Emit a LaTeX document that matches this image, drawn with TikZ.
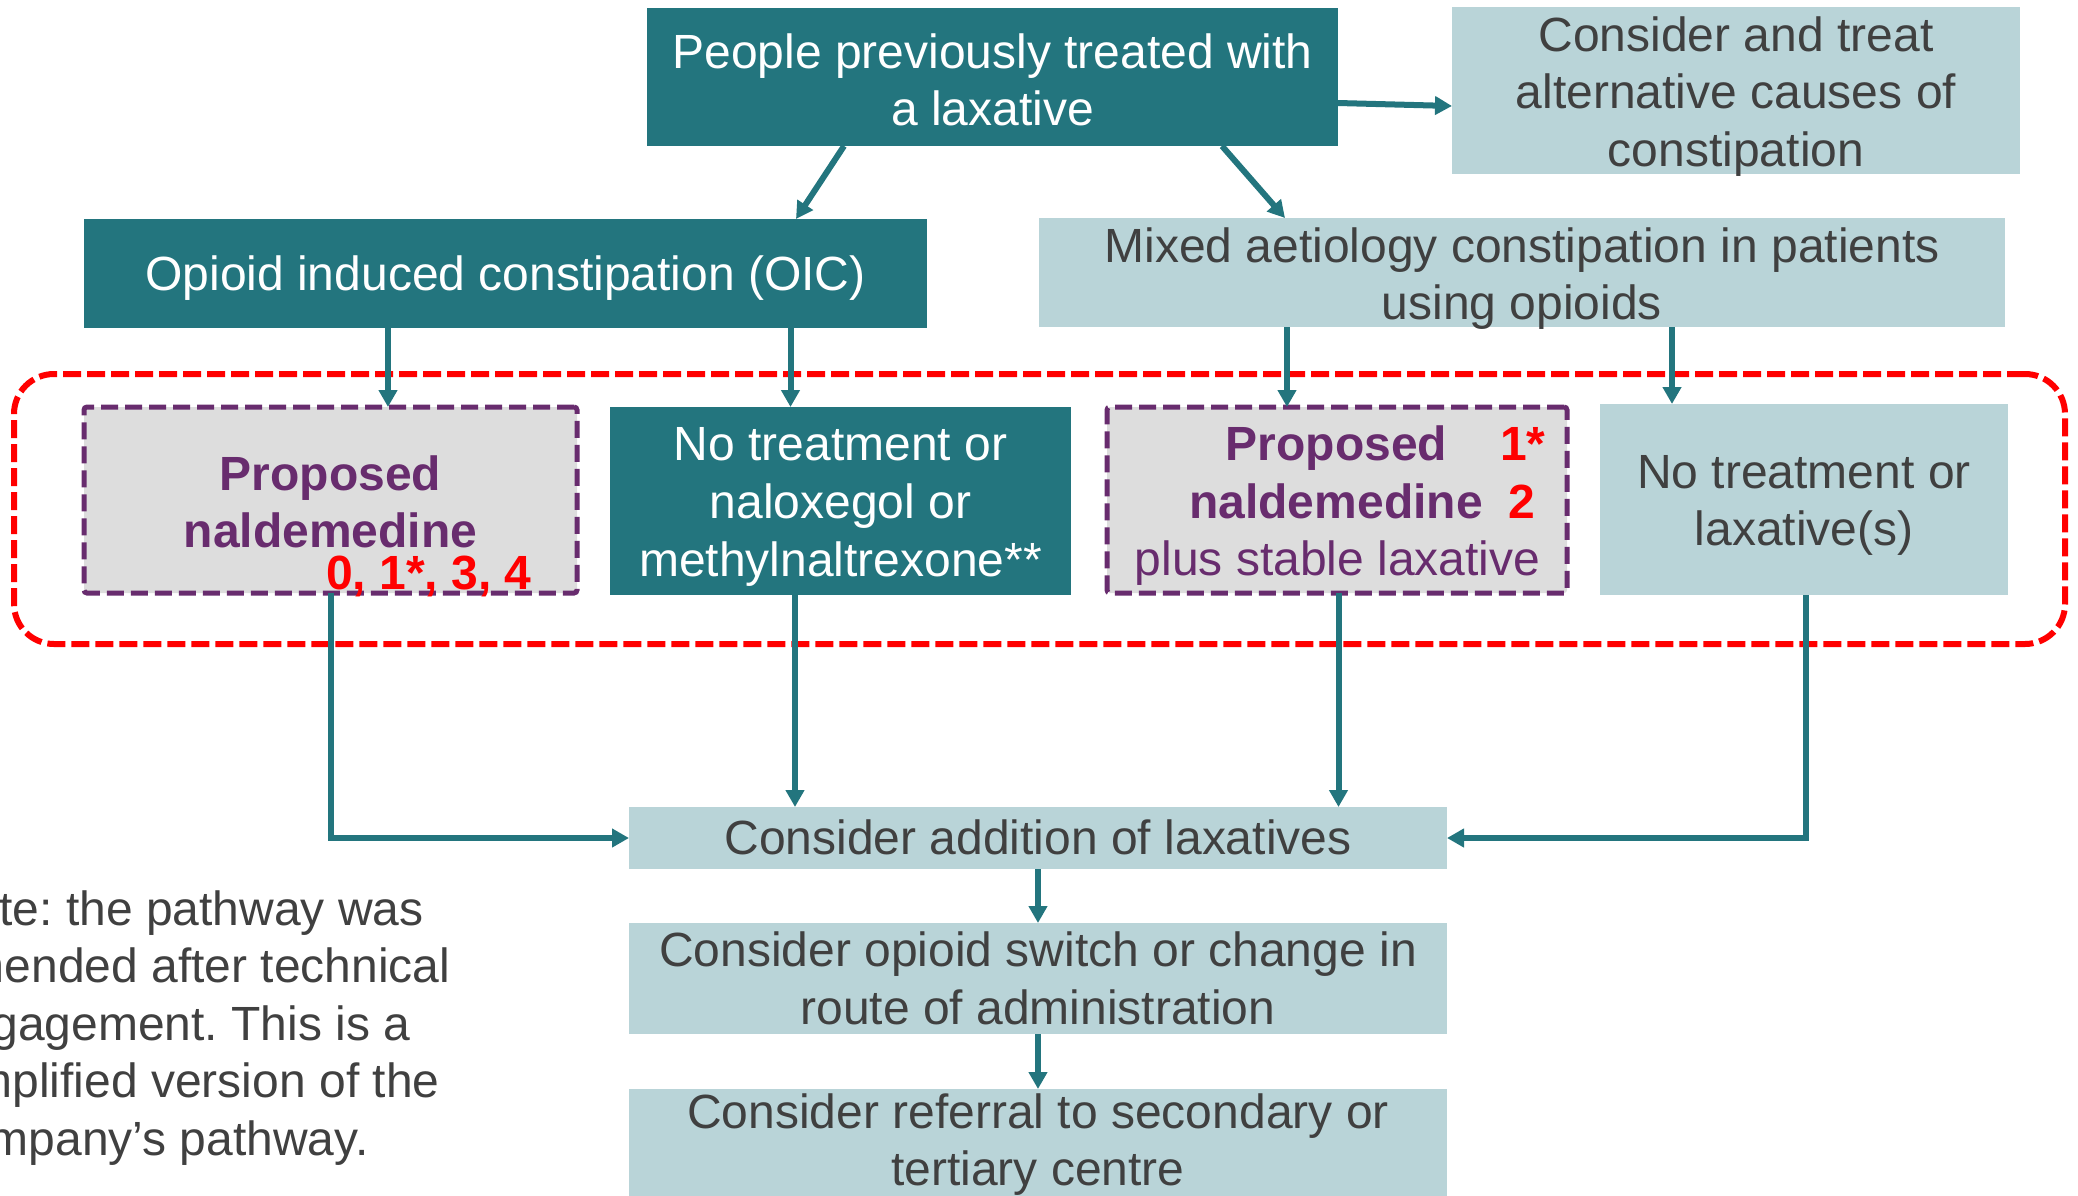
\documentclass[tikz,border=0pt]{standalone}
\usepackage{fontspec}
\setmainfont{Liberation Sans}
\frenchspacing
\usetikzlibrary{arrows.meta}
\definecolor{teal1}{HTML}{23757E}
\definecolor{lightb}{HTML}{B9D4D8}
\definecolor{grayf}{HTML}{DDDDDD}
\definecolor{purp}{HTML}{682C6E}
\definecolor{txtg}{HTML}{404040}
\definecolor{redd}{HTML}{FF0000}
\tikzset{
  basefont/.style={font=\fontsize{48}{57.6}\selectfont, inner sep=0pt, outer sep=0pt, align=center},
  darkbox/.style={basefont, fill=teal1},
  lightbox/.style={basefont, fill=lightb},
  whitetext/.style={basefont, text=white},
  graytext/.style={basefont, text=txtg},
  propbox/.style={basefont, fill=grayf, draw=purp, line width=5pt, dash pattern=on 17pt off 7pt, rounded corners=3pt},
  arr/.style={draw=teal1, line width=6pt, -{Triangle[length=17pt,width=18pt]}},
  redbox/.style={draw=redd, line width=6pt, dash pattern=on 18pt off 6pt, rounded corners=40pt, inner sep=0pt},
  proptext/.style={basefont, text=purp},
  redtext/.style={basefont, text=redd, font=\fontsize{48}{57.6}\selectfont\bfseries},
  notetext/.style={basefont, text=txtg, align=left},
}
\begin{document}
\begin{tikzpicture}[x=1pt,y=-1pt]
\useasboundingbox (0,0) rectangle (2078,1195);
\clip (0,0) rectangle (2078,1195);

% red group outline
\node[redbox, minimum width=2051pt, minimum height=270pt] (grp) at (1039.5,509) {};

% boxes
\node[darkbox, minimum width=691pt, minimum height=138pt] (top) at (992.5,77) {};
\node[whitetext, yshift=-3pt] (topt) at (top.center) {People previously treated with\\a laxative};
\node[lightbox, minimum width=568pt, minimum height=167pt] (alt) at (1736,90.5) {};
\node[graytext, yshift=-6pt] (altt) at (alt.center) {Consider and treat\\alternative causes of\\constipation};
\node[darkbox, minimum width=843pt, minimum height=109pt] (oic) at (505.5,273.5) {};
\node[whitetext, yshift=-5pt] (oict) at (oic.center) {Opioid induced constipation (OIC)};
\node[lightbox, minimum width=966pt, minimum height=109pt] (mixed) at (1522,272.5) {};
\node[graytext, yshift=-6pt] (mixedt) at (mixed.center) {Mixed aetiology constipation in patients\\using opioids};

\node[propbox, minimum width=493pt, minimum height=186pt] (prop1) at (330.5,500) {};
\node[darkbox, minimum width=461pt, minimum height=188pt] (nalox) at (840.5,501) {};
\node[whitetext, yshift=-6pt] (naloxt) at (nalox.center) {No treatment or\\naloxegol or\\methylnaltrexone**};
\node[propbox, minimum width=460pt, minimum height=186pt] (prop2) at (1337,500) {};
\node[lightbox, minimum width=408pt, minimum height=191pt] (nolax) at (1804,499.5) {};
\node[graytext, yshift=-6pt] (nolaxt) at (nolax.center) {No treatment or\\laxative(s)};

\node[lightbox, minimum width=818pt, minimum height=62pt] (add) at (1038,838) {};
\node[graytext, yshift=1pt] (addt) at (add.center) {Consider addition of laxatives};
\node[lightbox, minimum width=818pt, minimum height=111pt] (switch) at (1038,978.5) {};
\node[graytext] (switcht) at (switch.center) {Consider opioid switch or change in\\route of administration};
\node[lightbox, minimum width=818pt, minimum height=107pt] (refer) at (1038,1142.5) {};
\node[graytext, yshift=-2pt] (refert) at (refer.center) {Consider referral to secondary or\\tertiary centre};

% texts in proposed boxes
\node[proptext, font=\fontsize{48}{57.6}\selectfont\bfseries, yshift=-2pt] (p1a) at (prop1.center) {Proposed\\naldemedine};
\node[redtext, anchor=base west] (p1n) at (326,589) {0, 1*, 3, 4};

\node[proptext, font=\fontsize{48}{57.6}\selectfont\bfseries, anchor=base] (p2a) at (1336.5,460) {Proposed};
\node[redtext, anchor=base west] (p2n1) at (1500,460) {1*};
\node[proptext, font=\fontsize{48}{57.6}\selectfont\bfseries, anchor=base] (p2b) at (1336,518) {naldemedine};
\node[redtext, anchor=base west] (p2n2) at (1508,518) {2};
\node[proptext, anchor=base] (p2c) at (1337.5,575) {plus stable laxative};

% note
\node[notetext, anchor=base west] (n1) at (-62,925) {Note: the pathway was};
\node[notetext, anchor=base west] (n2) at (-62,982.5) {amended after technical};
\node[notetext, anchor=base west] (n3) at (-62,1040) {engagement. This is a};
\node[notetext, anchor=base west] (n4) at (-62,1097.5) {simplified version of the};
\node[notetext, anchor=base west] (n5) at (-62,1155) {company’s pathway.};

% connectors
\draw[arr] ([yshift=-26pt]top.east) -- ([yshift=-15.5pt]alt.west);
\draw[arr] ([xshift=-148.5pt]top.south) -- ([xshift=290.5pt]oic.north);
\draw[arr] ([xshift=229.5pt]top.south) -- ([xshift=-237pt]mixed.north);

\draw[arr] ([xshift=-117.5pt]oic.south) -- ([xshift=57.5pt]prop1.north);
\draw[arr] ([xshift=285pt]oic.south) -- ([xshift=-50pt]nalox.north);
\draw[arr] ([xshift=-235pt]mixed.south) -- ([xshift=-50pt]prop2.north);
\draw[arr] ([xshift=150pt]mixed.south) -- ([xshift=-132pt]nolax.north);

\draw[arr] (prop1.south) |- (add.west);
\draw[arr] ([xshift=-45.5pt]nalox.south) -- ([xshift=-243pt]add.north);
\draw[arr] ([xshift=1.5pt]prop2.south) -- ([xshift=300.5pt]add.north);
\draw[arr] ([xshift=2pt]nolax.south) |- (add.east);

\draw[arr] (add.south) -- (switch.north);
\draw[arr] (switch.south) -- (refer.north);
\end{tikzpicture}
\end{document}
